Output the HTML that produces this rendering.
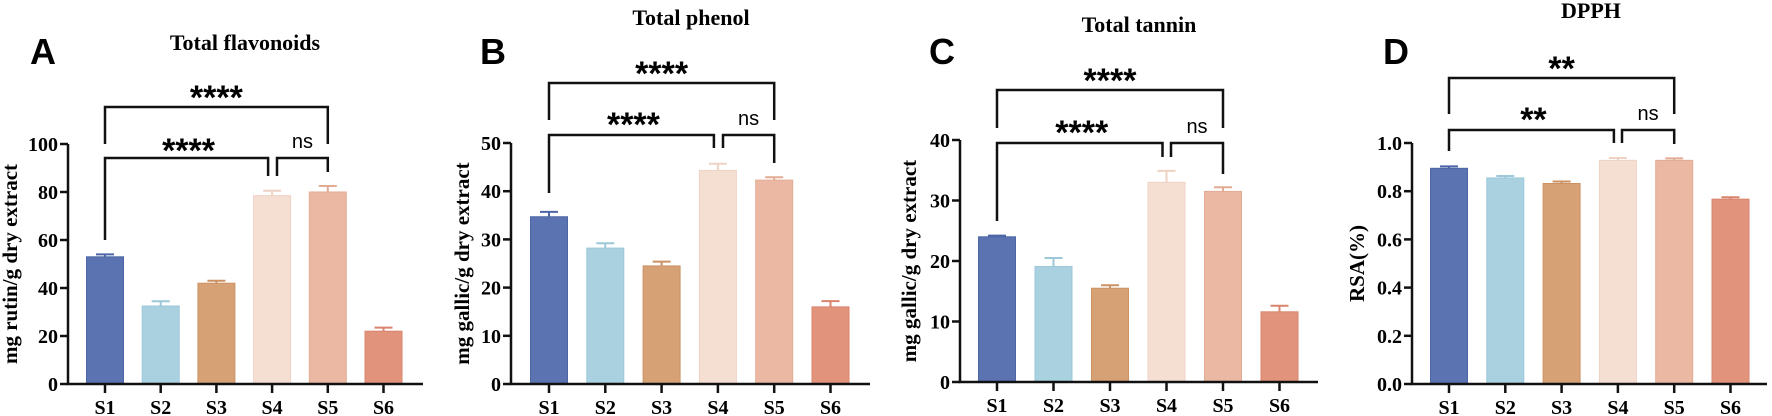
<!DOCTYPE html>
<html><head><meta charset="utf-8"><style>
html,body{margin:0;padding:0;background:#fff;}
svg{display:block;}
</style></head><body>
<svg id="fig" width="1772" height="416" viewBox="0 0 1772 416" xmlns="http://www.w3.org/2000/svg"></svg>
<script>
const categories = ["S1","S2","S3","S4","S5","S6"];
const colors = ["#5b73b0","#a9d1df","#d7a176","#f5dfd3","#ebb9a3","#e2937c"];
const strokeCols = ["#4e66a6","#9cc8d8","#cc9264","#eed3c4","#e2ab94","#d9846c"];
const valuesA = [53, 32.5, 42, 78.5, 80, 22];
const errorsA = [1, 2, 1, 2, 2.5, 1.5];
const ticksA = [0,20,40,60,80,100];
const valuesB = [34.7, 28.2, 24.5, 44.3, 42.3, 16];
const errorsB = [1, 1, 0.9, 1.4, 0.6, 1.2];
const ticksB = [0,10,20,30,40,50];
const valuesC = [24, 19.1, 15.5, 33, 31.5, 11.6];
const errorsC = [0.2, 1.4, 0.5, 1.9, 0.7, 1];
const ticksC = [0,10,20,30,40];
const valuesD = [0.895, 0.855, 0.832, 0.928, 0.928, 0.767];
const errorsD = [0.008, 0.008, 0.008, 0.01, 0.008, 0.008];
const ticksD = ["0.0","0.2","0.4","0.6","0.8","1.0"];
const sigA = ["****","****","ns"];
const sigB = ["****","****","ns"];
const sigC = ["****","****","ns"];
const sigD = ["**","**","ns"];

const NS="http://www.w3.org/2000/svg";
const svg=document.getElementById('fig');
function mk(tag,attrs,parent){const e=document.createElementNS(NS,tag);for(const k in attrs)e.setAttribute(k,attrs[k]);(parent||svg).appendChild(e);return e;}

const panels=[
 {id:'a',letter:'A',title:'Total flavonoids',ylabel:'mg rutin/g dry extract',vals:valuesA,errs:errorsA,ticks:ticksA,sig:sigA,
  ax:68,y0:384,yTop:144,ymax:100,xEnd:423,c0:105,dx:55.7,bw:37,titleX:245,titleY:50,letX:30,letY:64,
  topY:107,topLeg:144,lowY:158,s1Leg:240,s4Leg:176,nsL:277,s5Leg:172,star1Y:85,star2Y:138,ylabX:12},
 {id:'b',letter:'B',title:'Total phenol',ylabel:'mg gallic/g dry extract',vals:valuesB,errs:errorsB,ticks:ticksB,sig:sigB,
  ax:511,y0:384,yTop:143,ymax:50,xEnd:870,c0:549,dx:56.3,bw:37,titleX:691,titleY:25,letX:480,letY:64,
  topY:83,topLeg:120,lowY:135,s1Leg:193,s4Leg:148,nsL:723,s5Leg:163,star1Y:61,star2Y:112,ylabX:464},
 {id:'c',letter:'C',title:'Total tannin',ylabel:'mg gallic/g dry extract',vals:valuesC,errs:errorsC,ticks:ticksC,sig:sigC,
  ax:960,y0:382,yTop:140,ymax:40,xEnd:1318,c0:997,dx:56.5,bw:37,titleX:1139,titleY:32,letX:929,letY:64,
  topY:90,topLeg:128,lowY:143,s1Leg:221,s4Leg:157,nsL:1171,s5Leg:174,star1Y:68,star2Y:120,ylabX:911},
 {id:'d',letter:'D',title:'DPPH',ylabel:'RSA(%)',vals:valuesD,errs:errorsD,ticks:ticksD,sig:sigD,
  ax:1412,y0:384,yTop:143,ymax:1.0,xEnd:1767,c0:1449,dx:56.3,bw:37,titleX:1591,titleY:18,letX:1383,letY:64,
  topY:78,topLeg:114,lowY:130,s1Leg:151,s4Leg:143,nsL:1622,s5Leg:144,star1Y:56,star2Y:107,ylabX:1359}
];

panels.forEach(p=>{
 const g=mk('g',{});
 
 
 const ys=v=>p.y0-(v/p.ymax)*(p.y0-p.yTop);
 const xs=i=>p.c0+i*p.dx;
 let t=mk('text',{x:p.letX,y:p.letY,'font-family':'Liberation Sans, sans-serif','font-weight':'bold','font-size':'36'},g);
 t.textContent=p.letter;
 
 
 t=mk('text',{x:p.titleX,y:p.titleY,'text-anchor':'middle','font-family':'Liberation Serif, serif','font-weight':'bold','font-size':'22'},g);
 t.textContent=p.title;
 
 
 const ly=(p.y0+p.yTop)/2;
 t=mk('text',{x:p.ylabX,y:ly,'text-anchor':'middle','font-family':'Liberation Serif, serif','font-weight':'bold','font-size':'21',transform:`rotate(-90 ${p.ylabX} ${ly})`,'dominant-baseline':'middle'},g);
 t.textContent=p.ylabel;
 
 
 p.vals.forEach((v,i)=>{
  const x=xs(i),y=ys(v);
  const r=mk('rect',{x:x-p.bw/2,y:y,width:p.bw,height:p.y0-y,fill:colors[i],stroke:strokeCols[i],'stroke-width':1},g);
  
  
  const ye=ys(v+p.errs[i]);
  const e=mk('path',{d:`M${x} ${y}V${ye}M${x-9} ${ye}H${x+9}`,stroke:strokeCols[i],'stroke-width':2,fill:'none'},g);
  
  
 });
 const axis=mk('path',{d:`M${p.ax} ${p.yTop}V${p.y0}H${p.xEnd}`,stroke:'#111','stroke-width':2.5,fill:'none'},g);
 
 
 p.ticks.forEach(tk=>{
  const y=ys(parseFloat(tk));
  mk('line',{x1:p.ax-8,x2:p.ax,y1:y,y2:y,stroke:'#111','stroke-width':2.5},g);
  const tt=mk('text',{x:p.ax-10,y:y+7,'text-anchor':'end','font-family':'Liberation Serif, serif','font-weight':'bold','font-size':'20'},g);
  tt.textContent=tk;
  
  
 });
 categories.forEach((c,i)=>{
  const x=xs(i);
  mk('line',{x1:x,x2:x,y1:p.y0,y2:p.y0+9,stroke:'#111','stroke-width':2.5},g);
  const tt=mk('text',{x:x,y:p.y0+30,'text-anchor':'middle','font-family':'Liberation Serif, serif','font-weight':'bold','font-size':'20'},g);
  tt.textContent=c;
  
  
 });
 const x1=xs(0),x4=xs(3),x5=xs(4);
 const br=mk('path',{d:`M${x1} ${p.topLeg}V${p.topY}H${x5}V${p.topLeg}M${x1} ${p.s1Leg}V${p.lowY}H${x4-4}V${p.s4Leg}M${p.nsL} ${p.s4Leg}V${p.lowY}H${x5}V${p.s5Leg}`,stroke:'#111','stroke-width':2.5,fill:'none'},g);
 
 
 t=mk('text',{x:(x1+x5)/2,y:p.star1Y+24,'text-anchor':'middle','font-family':'Liberation Sans, sans-serif','font-weight':'bold','font-size':'34'},g);
 t.textContent=p.sig[0];
 
 
 t=mk('text',{x:(x1+x4)/2,y:p.star2Y+24,'text-anchor':'middle','font-family':'Liberation Sans, sans-serif','font-weight':'bold','font-size':'34'},g);
 t.textContent=p.sig[1];
 
 
 t=mk('text',{x:(p.nsL+x5)/2,y:p.lowY-10,'text-anchor':'middle','font-family':'Liberation Sans, sans-serif','font-size':'20'},g);
 t.textContent=p.sig[2];
 
 
});
</script>
</body></html>
